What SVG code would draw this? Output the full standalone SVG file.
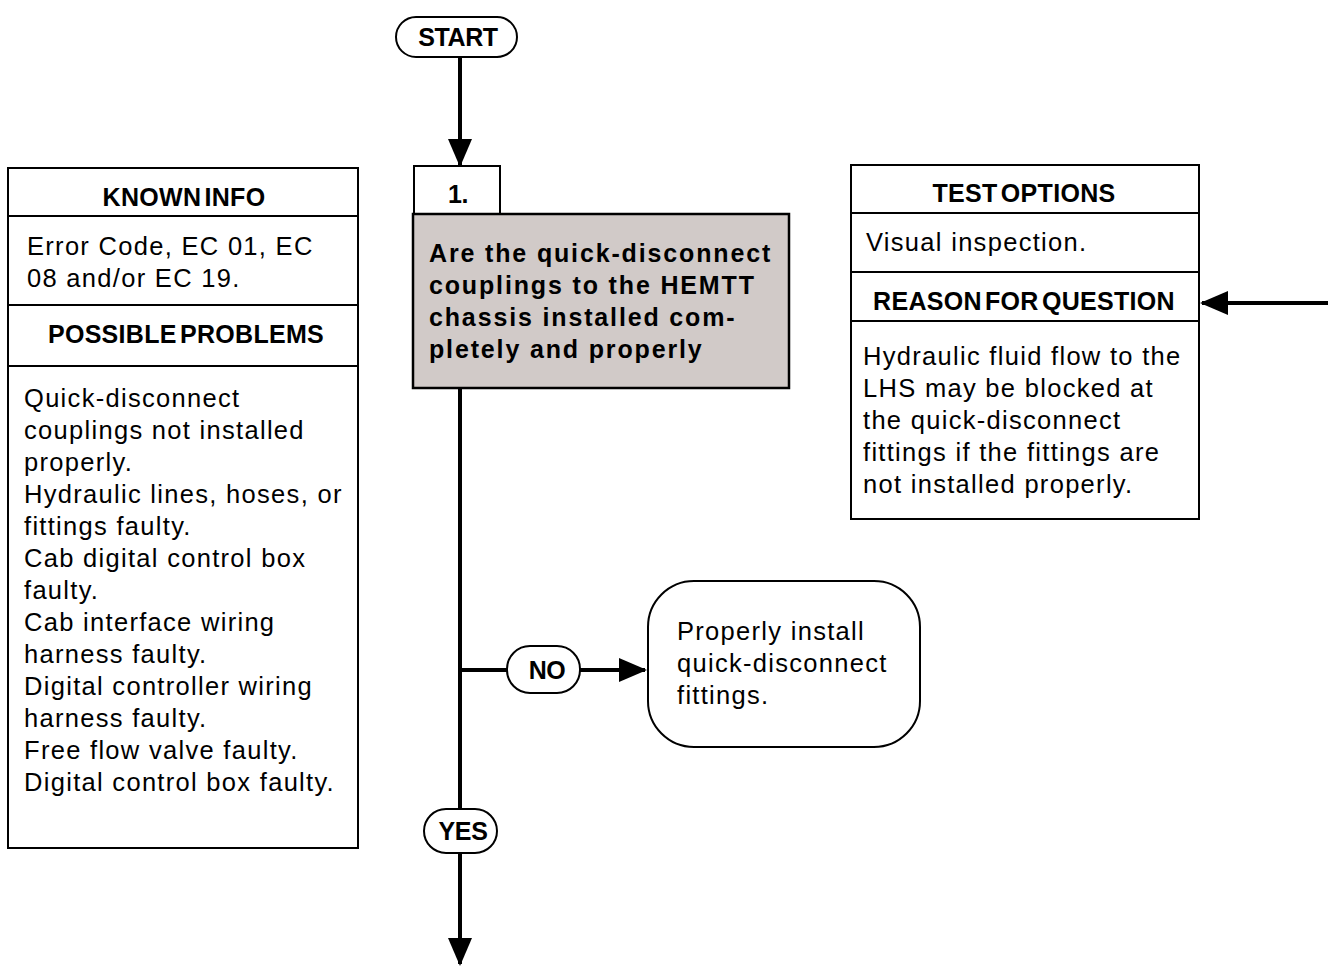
<svg xmlns="http://www.w3.org/2000/svg" width="1328" height="966" viewBox="0 0 1328 966">
<style>
.box{fill:#fff;stroke:#000;stroke-width:2}
.gray{fill:#d1cac8;stroke:#000;stroke-width:2.5}
.ln{stroke:#000;stroke-width:2;fill:none}
.con{stroke:#000;stroke-width:4;fill:none}
.t{font-family:"Liberation Sans",Arial,sans-serif;font-size:25.5px;letter-spacing:1.3px;fill:#000}
.h{font-family:"Liberation Sans",Arial,sans-serif;font-size:25px;font-weight:bold;word-spacing:-4px;letter-spacing:0.3px;fill:#000;text-anchor:middle}
.b{font-family:"Liberation Sans",Arial,sans-serif;font-size:25px;font-weight:bold;letter-spacing:1.85px;fill:#000}
.p{font-family:"Liberation Sans",Arial,sans-serif;font-size:25px;font-weight:bold;letter-spacing:-0.4px;fill:#000;text-anchor:middle}
</style>
<defs>
<marker id="ah" markerWidth="7" markerHeight="6" refX="6.5" refY="3" orient="auto" markerUnits="strokeWidth">
<path d="M0,0 L7,3 L0,6 Z" fill="#000"/>
</marker>
</defs>
<g id="connectors">
<line class="con" x1="460" y1="57" x2="460" y2="165" marker-end="url(#ah)"/>
<line class="con" x1="460" y1="388" x2="460" y2="810"/>
<line class="con" x1="460" y1="670" x2="507" y2="670"/>
<line class="con" x1="580" y1="670" x2="645" y2="670" marker-end="url(#ah)"/>
<line class="con" x1="460" y1="852" x2="460" y2="964" marker-end="url(#ah)"/>
<line class="con" x1="1328" y1="303" x2="1202" y2="303" marker-end="url(#ah)"/>
</g>
<g id="start">
<rect class="box" x="396" y="17" width="121" height="40" rx="20"/>
<text class="p" x="458" y="46">START</text>
</g>
<g id="step1-num">
<rect class="box" x="414" y="166" width="86" height="48"/>
<text class="p" x="458" y="203">1.</text>
</g>
<g id="step1-question">
<rect class="gray" x="413" y="214" width="376" height="174"/>
<text class="b" x="429" y="262">Are the quick-disconnect</text>
<text class="b" x="429" y="294">couplings to the HEMTT</text>
<text class="b" x="429" y="326">chassis installed com-</text>
<text class="b" x="429" y="358">pletely and properly</text>
</g>
<g id="known-info">
<rect class="box" x="8" y="168" width="350" height="680"/>
<line class="ln" x1="8" y1="216" x2="358" y2="216"/>
<line class="ln" x1="8" y1="305" x2="358" y2="305"/>
<line class="ln" x1="8" y1="366" x2="358" y2="366"/>
<text class="h" x="184" y="206">KNOWN INFO</text>
<text class="t" x="27" y="255">Error Code, EC 01, EC</text>
<text class="t" x="27" y="287">08 and/or EC 19.</text>
<text class="h" x="186" y="343">POSSIBLE PROBLEMS</text>
<text class="t" x="24" y="407">Quick-disconnect</text>
<text class="t" x="24" y="439">couplings not installed</text>
<text class="t" x="24" y="471">properly.</text>
<text class="t" x="24" y="503">Hydraulic lines, hoses, or</text>
<text class="t" x="24" y="535">fittings faulty.</text>
<text class="t" x="24" y="567">Cab digital control box</text>
<text class="t" x="24" y="599">faulty.</text>
<text class="t" x="24" y="631">Cab interface wiring</text>
<text class="t" x="24" y="663">harness faulty.</text>
<text class="t" x="24" y="695">Digital controller wiring</text>
<text class="t" x="24" y="727">harness faulty.</text>
<text class="t" x="24" y="759">Free flow valve faulty.</text>
<text class="t" x="24" y="791">Digital control box faulty.</text>
</g>
<g id="test-options">
<rect class="box" x="851" y="165" width="348" height="354"/>
<line class="ln" x1="851" y1="213" x2="1199" y2="213"/>
<line class="ln" x1="851" y1="272" x2="1199" y2="272"/>
<line class="ln" x1="851" y1="321" x2="1199" y2="321"/>
<text class="h" x="1024" y="202">TEST OPTIONS</text>
<text class="t" x="866" y="251">Visual inspection.</text>
<text class="h" x="1024" y="310">REASON FOR QUESTION</text>
<text class="t" x="863" y="365">Hydraulic fluid flow to the</text>
<text class="t" x="863" y="397">LHS may be blocked at</text>
<text class="t" x="863" y="429">the quick-disconnect</text>
<text class="t" x="863" y="461">fittings if the fittings are</text>
<text class="t" x="863" y="493">not installed properly.</text>
</g>
<g id="no-label">
<rect class="box" x="507" y="646" width="73" height="47" rx="23"/>
<text class="p" x="547" y="679">NO</text>
</g>
<g id="action">
<rect class="box" x="648" y="581" width="272" height="166" rx="46"/>
<text class="t" x="677" y="640">Properly install</text>
<text class="t" x="677" y="672">quick-disconnect</text>
<text class="t" x="677" y="704">fittings.</text>
</g>
<g id="yes-label">
<rect class="box" x="424" y="809" width="73" height="44" rx="22"/>
<text class="p" x="463" y="840">YES</text>
</g>
</svg>
